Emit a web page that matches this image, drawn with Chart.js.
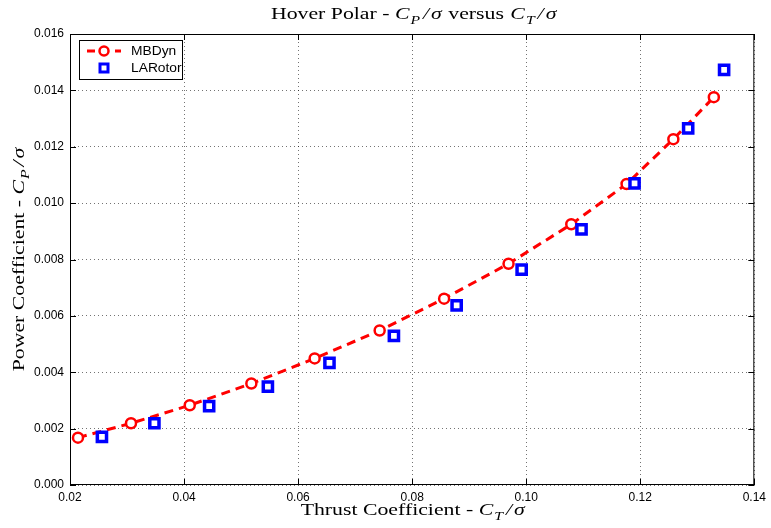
<!DOCTYPE html>
<html>
<head>
<meta charset="utf-8">
<title>Hover Polar</title>
<script src="https://cdn.jsdelivr.net/npm/chart.js@4"></script>
<style>
  html, body { margin: 0; padding: 0; background: #fff; }
  #wrap { width: 771px; height: 528px; }
</style>
</head>
<body>
<div id="wrap"><canvas id="polar" width="771" height="528"></canvas></div>
<script>
// Thrust / power coefficients (both divided by solidity)
const mbdynCT = [0.0214, 0.0307, 0.0410, 0.0518, 0.0629, 0.0743, 0.0856, 0.0969, 0.1079, 0.1176, 0.1258, 0.1329];
const mbdynCP = [0.00168, 0.00219, 0.00283, 0.00360, 0.00449, 0.00548, 0.00661, 0.00785, 0.00925, 0.01068, 0.01227, 0.01376];
const laroCT = [0.0256, 0.0348, 0.0444, 0.0547, 0.0655, 0.0768, 0.0878, 0.0992, 0.1097, 0.1190, 0.1284, 0.1347];
const laroCP = [0.00171, 0.00219, 0.00280, 0.00349, 0.00433, 0.00529, 0.00637, 0.00764, 0.00907, 0.01070, 0.01265, 0.01473];

const xTicks = [0.02, 0.04, 0.06, 0.08, 0.10, 0.12, 0.14];
const yTicks = [0, 0.002, 0.004, 0.006, 0.008, 0.010, 0.012, 0.014, 0.016];

const toPoints = (xs, ys) => xs.map((x, i) => ({ x: x, y: ys[i] }));

const SERIF = '"Liberation Serif", "DejaVu Serif", serif';
const SANS = '"Liberation Sans", Arial, sans-serif';

// text run made of pieces (italic / subscript), drawn a bit wide like the latex output
function drawRich(ctx, parts, x, y, size, sx) {
  const fontFor = p => (p.italic ? 'italic ' : '') + (p.sub ? size * 0.72 : size) + 'px ' + SERIF;
  const widthOf = p => { ctx.font = fontFor(p); return ctx.measureText(p.t).width * sx + (p.gap || 0); };
  const total = parts.reduce((s, p) => s + widthOf(p), 0);
  let cx = x - total / 2;
  ctx.textBaseline = 'alphabetic';
  ctx.textAlign = 'left';
  parts.forEach(p => {
    const w = widthOf(p);
    ctx.save();
    ctx.translate(cx, p.sub ? y + size * 0.28 : y);
    ctx.scale(sx, 1);
    ctx.fillText(p.t, 0, 0);
    ctx.restore();
    cx += w;
  });
}

const mathCT = sub => [
  { t: 'C', italic: true, gap: 1 }, { t: sub, italic: true, sub: true, gap: 3 },
  { t: '/', italic: true, gap: 2 }, { t: 'σ', italic: true, gap: 1 }
];
const titleParts = [{ t: 'Hover Polar - ' }].concat(mathCT('P'), [{ t: ' versus ', gap: 1 }], mathCT('T'));
const xLabelParts = [{ t: 'Thrust Coefficient - ' }].concat(mathCT('T'));
const yLabelParts = [{ t: 'Power Coefficient - ' }].concat(mathCT('P'));

// box, inward ticks on all sides, legend and the labels
const framePlugin = {
  id: 'frame',
  afterDraw(chart) {
    const { ctx, chartArea: a, scales } = chart;
    ctx.save();
    ctx.strokeStyle = '#000';
    ctx.lineWidth = 1;
    ctx.setLineDash([]);
    ctx.strokeRect(a.left + 0.5, a.top + 0.5, a.right - a.left - 1, a.bottom - a.top - 1);

    const tl = 6;
    ctx.beginPath();
    xTicks.forEach(v => {
      const px = Math.round(scales.x.getPixelForValue(v)) + 0.5;
      ctx.moveTo(px, a.bottom); ctx.lineTo(px, a.bottom - tl);
      ctx.moveTo(px, a.top); ctx.lineTo(px, a.top + tl);
    });
    yTicks.forEach(v => {
      const py = Math.round(scales.y.getPixelForValue(v)) + 0.5;
      ctx.moveTo(a.left, py); ctx.lineTo(a.left + tl, py);
      ctx.moveTo(a.right, py); ctx.lineTo(a.right - tl, py);
    });
    ctx.stroke();

    // legend
    const lx = a.left + 9, ly = a.top + 6, lw = 103, lh = 39;
    ctx.fillStyle = '#fff';
    ctx.fillRect(lx, ly, lw, lh);
    ctx.strokeRect(lx + 0.5, ly + 0.5, lw, lh);
    const r1 = ly + 11, r2 = ly + 28;
    ctx.strokeStyle = '#ff0000';
    ctx.lineWidth = 3;
    ctx.setLineDash([8, 6]);
    ctx.beginPath();
    ctx.moveTo(lx + 8, r1); ctx.lineTo(lx + 42, r1);
    ctx.stroke();
    ctx.setLineDash([]);
    ctx.lineWidth = 2.5;
    ctx.fillStyle = '#fff';
    ctx.beginPath();
    ctx.arc(lx + 25, r1, 4.5, 0, Math.PI * 2);
    ctx.fill(); ctx.stroke();
    ctx.strokeStyle = '#0000ff';
    ctx.lineWidth = 3;
    ctx.strokeRect(lx + 21, r2 - 4, 8, 8);
    ctx.fillStyle = '#000';
    ctx.font = '12px ' + SANS;
    ctx.textBaseline = 'middle';
    ctx.textAlign = 'left';
    [['MBDyn', r1 + 1], ['LARotor', r2 + 1]].forEach(([txt, ty]) => {
      ctx.save();
      ctx.translate(lx + 52, ty);
      ctx.scale(1.15, 1);
      ctx.fillText(txt, 0, 0);
      ctx.restore();
    });

    // title and axis labels
    const mid = (a.left + a.right) / 2;
    drawRich(ctx, titleParts, mid + 2, 19, 16.5, 1.32);
    drawRich(ctx, xLabelParts, mid + 1, 515, 16.5, 1.32);
    ctx.translate(24, 259);
    ctx.rotate(-Math.PI / 2);
    drawRich(ctx, yLabelParts, 0, 0, 16.5, 1.32);
    ctx.restore();
  }
};

new Chart(document.getElementById('polar').getContext('2d'), {
  type: 'scatter',
  data: {
    datasets: [
      {
        label: 'MBDyn',
        data: toPoints(mbdynCT, mbdynCP),
        showLine: true,
        borderColor: '#ff0000',
        borderWidth: 3,
        borderDash: [9, 6],
        tension: 0,
        pointStyle: 'circle',
        pointRadius: 5,
        pointBorderWidth: 2.5,
        pointBorderColor: '#ff0000',
        pointBackgroundColor: '#ffffff',
        order: 2
      },
      {
        label: 'LARotor',
        data: toPoints(laroCT, laroCP),
        showLine: false,
        pointStyle: 'rect',
        pointRadius: 6.5,
        pointBorderWidth: 3.5,
        pointBorderColor: '#0000ff',
        pointBackgroundColor: '#ffffff',
        order: 1
      }
    ]
  },
  options: {
    responsive: false,
    animation: false,
    layout: { padding: { top: 34, right: 14, left: 0, bottom: 0 } },
    plugins: {
      legend: { display: false },
      tooltip: { enabled: false }
    },
    scales: {
      x: {
        type: 'linear',
        min: 0.02,
        max: 0.14,
        afterFit: s => { s.height = 43; },
        afterBuildTicks: s => { s.ticks = xTicks.map(v => ({ value: v })); },
        grid: { color: 'rgba(0,0,0,0.55)', lineWidth: 1, drawTicks: false },
        border: { display: false, dash: [1, 3] },
        ticks: {
          padding: 5,
          color: '#000',
          font: { family: SANS, size: 12 },
          callback: v => v.toFixed(2)
        }
      },
      y: {
        type: 'linear',
        min: 0,
        max: 0.016,
        afterFit: s => { s.width = 70; },
        afterBuildTicks: s => { s.ticks = yTicks.map(v => ({ value: v })); },
        grid: { color: 'rgba(0,0,0,0.55)', lineWidth: 1, drawTicks: false },
        border: { display: false, dash: [1, 3] },
        ticks: {
          padding: 6,
          color: '#000',
          font: { family: SANS, size: 12 },
          callback: v => v.toFixed(3)
        }
      }
    }
  },
  plugins: [framePlugin]
});
</script>
</body>
</html>
